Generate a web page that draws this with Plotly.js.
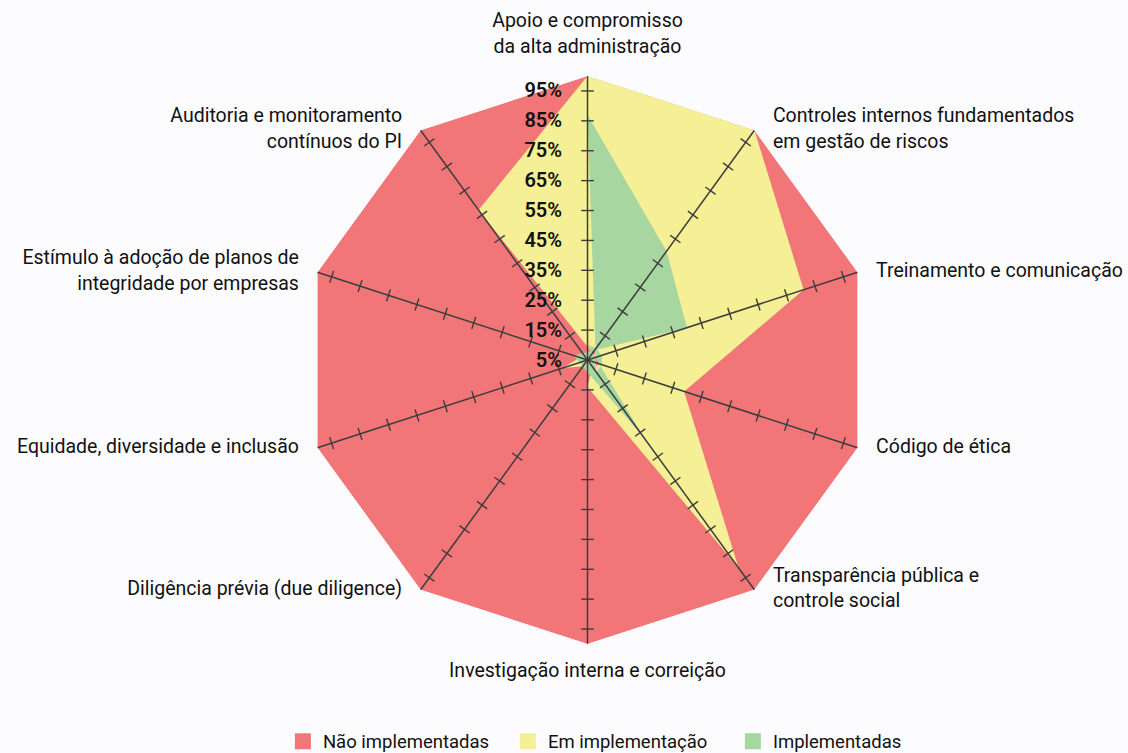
<!DOCTYPE html>
<html>
<head>
<meta charset="utf-8">
<script src="https://cdn.plot.ly/plotly-3.0.1.min.js"></script>
<style>
  html, body { margin: 0; padding: 0; background: #fcfcfe; }
  #chart { width: 1128px; height: 753px; }
</style>
</head>
<body>
<div id="chart"></div>
<script>
// ---------------- data ----------------
const categories = [
  "Apoio e compromisso<br>da alta administração",
  "Controles internos fundamentados<br>em gestão de riscos",
  "Treinamento e comunicação",
  "Código de ética",
  "Transparência pública e<br>controle social",
  "Investigação interna e correição",
  "Diligência prévia (due diligence)",
  "Equidade, diversidade e inclusão",
  "Estímulo à adoção de planos de<br>integridade por empresas",
  "Auditoria e monitoramento<br>contínuos do PI"
];
const seriesNames = ["Não implementadas", "Em implementação", "Implementadas"];
// radial extent of each coloured area (%)
const naoImplementadas = [100, 100, 100, 100, 100, 100, 100, 100, 100, 100];
const emImplementacao  = [100, 100, 81, 39, 91, 14, 0, 14, 0, 67];
const implementadas    = [87, 50, 40, 0, 38, 0, 0, 0, 0, 0];
const tickVals = [5, 15, 25, 35, 45, 55, 65, 75, 85, 95];
const tickText = ["5%", "15%", "25%", "35%", "45%", "55%", "65%", "75%", "85%", "95%"];

// ---------------- styling ----------------
const RMIN = 5, RMAX = 100;
const colors = ["#f27678", "#f5f096", "#a8d6a0"];
const axisColor = "#3d3d3d";
const FONT = "Roboto, 'Noto Sans', sans-serif";
const N = categories.length;

// The original renderer mirrors values below the radial minimum through the centre.
function polarPoints(vals) {
  const r = [], theta = [];
  vals.forEach((v, i) => {
    if (v >= RMIN) { r.push(v); theta.push(categories[i]); }
    else { r.push(2 * RMIN - v); theta.push(categories[(i + N / 2) % N]); }
  });
  return { r, theta };
}

const traces = [];
[naoImplementadas, emImplementacao, implementadas].forEach((vals, k) => {
  const p = polarPoints(vals);
  traces.push({
    type: "scatterpolar", r: p.r, theta: p.theta, mode: "lines",
    fill: "toself", fillcolor: colors[k], line: { width: 0, color: colors[k] },
    name: seriesNames[k], showlegend: false, hoverinfo: "skip"
  });
});

// spokes
const spokeR = [], spokeT = [];
categories.forEach(c => { spokeR.push(RMIN, RMAX, null); spokeT.push(c, c, c); });
traces.push({
  type: "scatterpolar", r: spokeR, theta: spokeT, mode: "lines",
  line: { color: axisColor, width: 1.5 }, connectgaps: false,
  showlegend: false, hoverinfo: "skip"
});
// tick marks on every spoke
const tkR = [], tkT = [], tkA = [];
categories.forEach((c, i) => {
  tickVals.slice(1).forEach(v => { tkR.push(v); tkT.push(c); tkA.push(i * 360 / N); });
});
traces.push({
  type: "scatterpolar", r: tkR, theta: tkT, mode: "markers",
  marker: { symbol: "line-ew", size: 9, angle: tkA, color: axisColor,
            line: { color: axisColor, width: 1.4 } },
  showlegend: false, hoverinfo: "skip"
});
// category labels, placed just outside each vertex
const labelPos = categories.map((c, i) => {
  const a = (90 - i * 360 / N) * Math.PI / 180;
  const cs = Math.cos(a), sn = Math.sin(a);
  if (Math.abs(cs) < 0.1) return sn > 0 ? "top center" : "bottom center";
  return cs > 0 ? "middle right" : "middle left";
});
traces.push({
  type: "scatterpolar", r: categories.map(() => RMAX), theta: categories,
  mode: "markers+text", text: categories, textposition: labelPos,
  textfont: { family: FONT, size: 19.5, color: "#111111" },
  marker: { size: 28, opacity: 0 }, cliponaxis: false,
  showlegend: false, hoverinfo: "skip"
});
// legend entries
seriesNames.forEach((nm, k) => {
  traces.push({
    type: "scatterpolar", r: [null], theta: [categories[0]], mode: "markers",
    marker: { symbol: "square", size: 16, color: colors[k] },
    name: nm, showlegend: true, hoverinfo: "skip"
  });
});

const layout = {
  width: 1128, height: 753,
  paper_bgcolor: "#fcfcfe",
  margin: { l: 80, r: 33, t: 76, b: 109 },
  font: { family: FONT, color: "#111111" },
  showlegend: true,
  legend: {
    orientation: "h", xref: "container", yref: "container",
    x: 0.55, xanchor: "center", y: 0.015, yanchor: "middle",
    font: { family: FONT, size: 18.5, color: "#111111" },
    itemwidth: 30, traceorder: "normal",
    entrywidth: 180, entrywidthmode: "pixels"
  },
  polar: {
    bgcolor: "rgba(0,0,0,0)",
    gridshape: "linear",
    angularaxis: {
      type: "category", categoryorder: "array", categoryarray: categories,
      rotation: 90, direction: "clockwise",
      showgrid: false, showline: false, ticks: "", showticklabels: false
    },
    radialaxis: {
      range: [RMIN, RMAX], angle: 90, side: "counterclockwise",
      tickvals: tickVals, ticktext: tickText, tickangle: 90,
      showline: false, showgrid: false,
      ticks: "outside", ticklen: 18, tickcolor: "rgba(0,0,0,0)",
      tickfont: { family: FONT, size: 20, weight: 600, color: "#111111" }
    }
  }
};

Plotly.newPlot("chart", traces, layout, { displayModeBar: false, staticPlot: true });
</script>
</body>
</html>
